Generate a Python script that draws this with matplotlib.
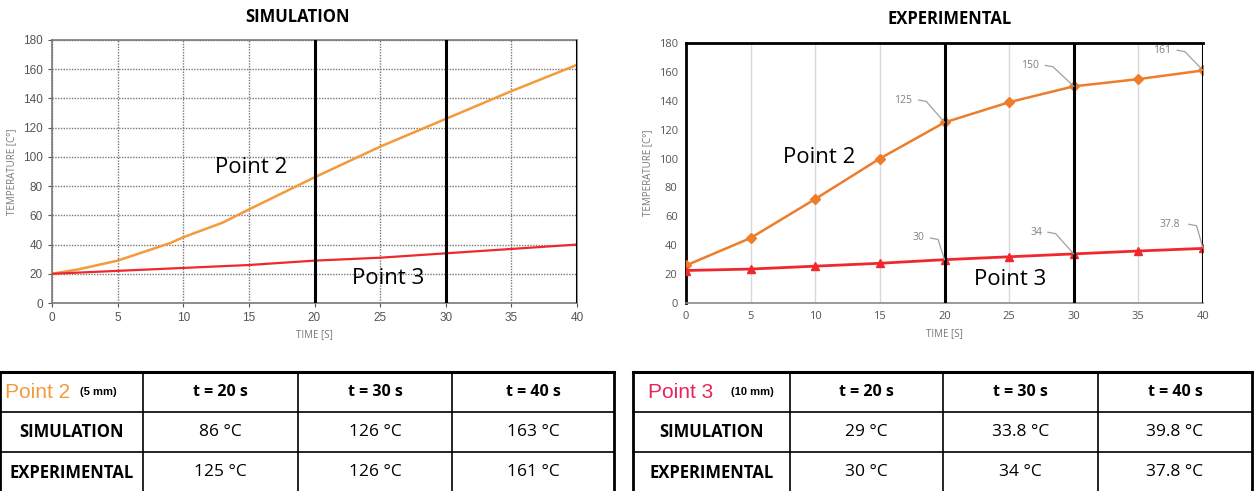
import matplotlib
matplotlib.use("Agg")
import matplotlib.pyplot as plt
from matplotlib import font_manager

# ---------------- data ----------------
sim_t = [0, 2, 4, 5, 7, 9, 10, 13, 15, 17.5, 20, 25, 30, 35, 40]
sim_p2 = [20, 23, 27, 29, 35, 41, 45, 55, 64, 75, 86, 107, 126, 145, 163]
sim_p3_t = [0, 5, 10, 15, 20, 25, 30, 35, 40]
sim_p3 = [20, 22, 24, 26, 29, 31, 34, 37, 40]

exp_t = [0, 5, 10, 15, 20, 25, 30, 35, 40]
exp_p2 = [26, 45, 72, 100, 125, 139, 150, 155, 161]
exp_p3 = [22.5, 23.5, 25.5, 27.5, 30, 32, 34, 36, 37.8]

marked_times = [20, 30, 40]
x_ticks = [0, 5, 10, 15, 20, 25, 30, 35, 40]
y_ticks = [0, 20, 40, 60, 80, 100, 120, 140, 160, 180]

# annotation labels (text, data point, label position)
exp_labels = [("125", (20, 125), (16.8, 140.5)),
              ("150", (30, 150), (26.6, 164.5)),
              ("161", (40, 161), (36.8, 175.0)),
              ("30", (20, 30), (18.0, 45)),
              ("34", (30, 34), (27.1, 49)),
              ("37.8", (40, 37.8), (37.4, 54.5))]

table_cols = ["t = 20 s", "t = 30 s", "t = 40 s"]
row_names = ["SIMULATION", "EXPERIMENTAL"]
p2_sim_vals = ["86 °C", "126 °C", "163 °C"]
p2_exp_vals = ["125 °C", "126 °C", "161 °C"]
p3_sim_vals = ["29 °C", "33.8 °C", "39.8 °C"]
p3_exp_vals = ["30 °C", "34 °C", "37.8 °C"]

ORANGE = "#f39a3a"
ORANGE2 = "#ee7d2b"
RED = "#f0282d"

plt.rcParams['font.family'] = ['Open Sans', 'DejaVu Sans']

try:
    font_manager.findfont("Liberation Sans Narrow", fallback_to_default=False)
    NARROW = "Liberation Sans Narrow"
except Exception:
    NARROW = "Liberation Sans"

W, H = 1255, 491
fig = plt.figure(figsize=(W / 100, H / 100), dpi=100)


def fx(px):
    return px / W


def fy(py):
    return 1 - py / H


# ---------------- simulation chart ----------------
ax1 = fig.add_axes([fx(52), fy(303), fx(577) - fx(52), fy(40) - fy(303)])
ax1.set_xlim(0, 40)
ax1.set_ylim(0, 180)
ax1.set_xticks(x_ticks)
ax1.set_yticks(y_ticks)
ax1.grid(True, color="#777777", linestyle=(0, (1, 1)), linewidth=1.0)
for s in ax1.spines.values():
    s.set_color("#7a7a7a")
    s.set_linewidth(1.2)
ax1.tick_params(colors="#555555", labelsize=7.5, length=3, labelcolor="#555555")
for lab in ax1.get_xticklabels() + ax1.get_yticklabels():
    lab.set_family(NARROW)
    lab.set_fontsize(8.5)
ax1.plot(sim_t, sim_p2, color=ORANGE, lw=1.8, zorder=3)
ax1.plot(sim_p3_t, sim_p3, color=RED, lw=1.6, zorder=3)
for t in marked_times:
    ax1.axvline(t, color="black", lw=2.2, zorder=4)
ax1.set_xlabel("TIME [S]", fontsize=7, color="#777777")
ax1.set_ylabel("TEMPERATURE [C°]", fontsize=7, color="#777777")
fig.text(fx(297), fy(17), "SIMULATION", fontsize=12, fontweight="bold", ha="center", va="center")
ax1.text(15.2, 93, "Point 2", fontsize=16, ha="center", va="center")
ax1.text(25.6, 16.5, "Point 3", fontsize=16, ha="center", va="center")

# ---------------- experimental chart ----------------
ax2 = fig.add_axes([fx(686), fy(303), fx(1203) - fx(686), fy(43) - fy(303)])
ax2.set_xlim(0, 40)
ax2.set_ylim(0, 180)
ax2.set_xticks(x_ticks)
ax2.set_yticks(y_ticks)
ax2.xaxis.grid(True, color="#d9d9d9", lw=1)
ax2.set_axisbelow(True)
ax2.spines["left"].set_color("black")
ax2.spines["left"].set_linewidth(2)
ax2.spines["top"].set_color("black")
ax2.spines["top"].set_linewidth(2)
ax2.spines["right"].set_visible(False)
ax2.spines["bottom"].set_color("#8a8a8a")
ax2.spines["bottom"].set_linewidth(1.2)
ax2.tick_params(length=0, labelsize=8, labelcolor="#555555", pad=6)
ax2.plot(exp_t, exp_p2, color=ORANGE2, lw=1.8, marker="D", ms=5, zorder=3)
ax2.plot(exp_t, exp_p3, color=RED, lw=2.0, marker="^", ms=6, zorder=3)
for t in marked_times:
    ax2.axvline(t, color="black", lw=2.2, zorder=4)
ax2.set_xlabel("TIME [S]", fontsize=7, color="#777777")
ax2.set_ylabel("TEMPERATURE [C°]", fontsize=7, color="#777777")
fig.text(fx(950), fy(19), "EXPERIMENTAL", fontsize=12, fontweight="bold", ha="center", va="center")
ax2.text(10.3, 100.5, "Point 2", fontsize=16, ha="center", va="center")
ax2.text(25.1, 16.5, "Point 3", fontsize=16, ha="center", va="center")
for txt, (px, py), (lx, ly) in exp_labels:
    ax2.text(lx, ly, txt, fontsize=7.5, color="#808080", ha="center", va="center")
    x0 = lx + 0.3 * len(txt) + 0.3
    x1 = x0 + 0.6
    ax2.plot([x0, x1, px], [ly, ly - 1, py], color="#a0a0a0", lw=0.9, zorder=5, clip_on=False)

# ---------------- tables ----------------
tab = fig.add_axes([0, 0, 1, 1])
tab.set_xlim(0, W)
tab.set_ylim(H, 0)
tab.axis("off")


def draw_table(x_edges, title, title_color, sub, sim_vals, exp_vals, t_off, s_off):
    y_edges = [372, 412, 452, 493]
    x0, x1 = x_edges[0], x_edges[-1]
    tab.plot([x0, x1], [y_edges[0], y_edges[0]], color="black", lw=2.2)
    for y in y_edges[1:3]:
        tab.plot([x0, x1], [y, y], color="black", lw=1.2)
    for i, x in enumerate(x_edges):
        lw = 2.0 if i in (0, len(x_edges) - 1) else 1.2
        tab.plot([x, x], [y_edges[0], y_edges[-1]], color="black", lw=lw)
    cx = [(x_edges[i] + x_edges[i + 1]) / 2 for i in range(len(x_edges) - 1)]
    cy = [(y_edges[i] + y_edges[i + 1]) / 2 for i in range(3)]
    tab.text(x0 + t_off, cy[0] + 1, title, color=title_color, fontsize=15, ha="center", va="center",
             family=NARROW)
    tab.text(x0 + s_off, cy[0], sub, fontsize=8, ha="center", va="center",
             fontweight="bold", family=NARROW)
    for j, c in enumerate(table_cols):
        tab.text(cx[j + 1], cy[0], c, fontsize=11.5, fontweight="bold", ha="center", va="center")
    for r, name in enumerate(row_names):
        tab.text(cx[0], cy[r + 1], name, fontsize=12, fontweight="bold", ha="center", va="center")
    for j in range(3):
        tab.text(cx[j + 1], cy[1], sim_vals[j], fontsize=12.5, ha="center", va="center")
        tab.text(cx[j + 1], cy[2], exp_vals[j], fontsize=12.5, ha="center", va="center")


draw_table([0, 143, 298, 452, 614], "Point 2", ORANGE, "(5 mm)", p2_sim_vals, p2_exp_vals, 38, 98)
draw_table([633, 790, 943, 1098, 1252], "Point 3", "#e8245a", "(10 mm)", p3_sim_vals, p3_exp_vals, 48, 119)

fig.savefig("out.png", dpi=100)
